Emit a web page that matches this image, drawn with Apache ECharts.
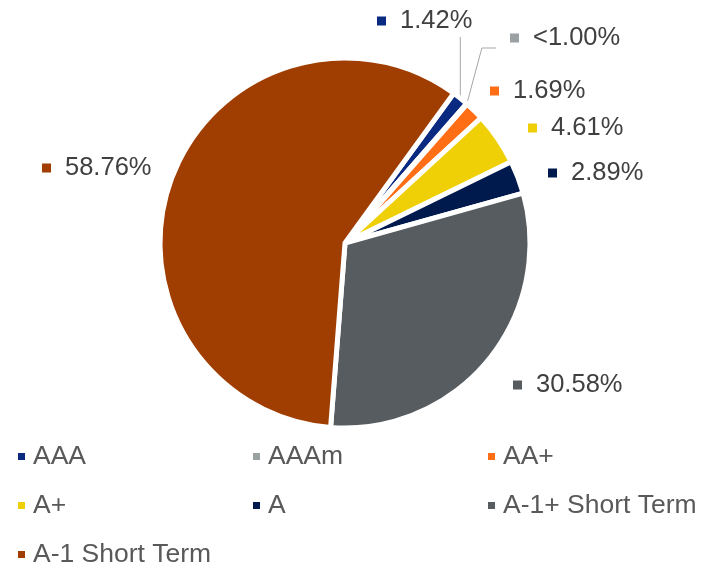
<!DOCTYPE html>
<html>
<head>
<meta charset="utf-8">
<script src="https://cdn.jsdelivr.net/npm/echarts@6/dist/echarts.min.js"></script>
<style>
  html, body { margin: 0; padding: 0; background: #fff; }
  #main { width: 713px; height: 565px; }
</style>
</head>
<body>
<div id="main"></div>
<script>
// Rating breakdown
var ratings = ['AAA', 'AAAm', 'AA+', 'A+', 'A', 'A-1+ Short Term', 'A-1 Short Term'];
var shares = [1.42, 0.05, 1.69, 4.61, 2.89, 30.58, 58.76];
var shareLabels = ['1.42%', '<1.00%', '1.69%', '4.61%', '2.89%', '30.58%', '58.76%'];
var colors = ['#0A2A82', '#9BA0A3', '#FF6D14', '#EFD006', '#001A4D', '#575C60', '#A03D00'];

// where each label sits (left edge of marker, vertical middle)
var labelSpots = [[377, 21], [510, 38], [490, 91], [528, 128], [548, 173], [513, 385], [42, 168]];

var font = '"Liberation Sans", Arial, sans-serif';

var myChart = echarts.init(document.getElementById('main'));

var pieData = ratings.map(function (r, i) {
    return {
        name: r,
        value: shares[i],
        itemStyle: { color: colors[i] },
        label: {
            formatter: '{m|}{t|' + shareLabels[i] + '}',
            rich: {
                m: { width: 9, height: 9, backgroundColor: colors[i] },
                t: { fontSize: 25.5, color: '#404040', fontFamily: font, padding: [0, 0, 0, 14] }
            }
        },
        labelLine: { show: i < 2 }
    };
});

function legendCol(names, left) {
    return {
        orient: 'vertical',
        left: left,
        top: 443,
        height: 160,
        padding: 0,
        itemWidth: 9,
        itemHeight: 9,
        itemGap: 22,
        icon: 'rect',
        selectedMode: false,
        data: names,
        textStyle: { fontSize: 26.5, lineHeight: 26, color: '#595959', fontFamily: font, padding: [0, 0, 0, 2] }
    };
}

var option = {
    animation: false,
    legend: [
        legendCol(['AAA', 'A+', 'A-1 Short Term'], 16),
        legendCol(['AAAm', 'A'], 251),
        legendCol(['AA+', 'A-1+ Short Term'], 486)
    ],
    series: [
        {
            type: 'pie',
            center: [345, 243],
            radius: [0, 185],
            startAngle: 54,
            clockwise: true,
            avoidLabelOverlap: false,
            emphasis: { disabled: true },
            itemStyle: { borderColor: '#fff', borderWidth: 5 },
            label: { show: true, position: 'outside' },
            labelLine: { length: 10, length2: 10, lineStyle: { color: '#A6A6A6', width: 1 } },
            labelLayout: function (params) {
                var i = params.dataIndex;
                var s = labelSpots[i];
                var out = { x: s[0], y: s[1], align: 'left', verticalAlign: 'middle' };
                var pts = params.labelLinePoints;
                if (pts && i < 2) {
                    var p0 = pts[0];
                    var lineY = s[1] + 14;
                    if (i === 0) {
                        out.labelLinePoints = [[p0[0], p0[1]], [p0[0], lineY + 2], [p0[0], lineY + 2]];
                    } else {
                        out.labelLinePoints = [[p0[0], p0[1]], [p0[0] + 15, lineY - 4], [s[0] - 14, lineY - 4]];
                    }
                }
                return out;
            },
            data: pieData
        }
    ]
};

myChart.setOption(option);
</script>
</body>
</html>
